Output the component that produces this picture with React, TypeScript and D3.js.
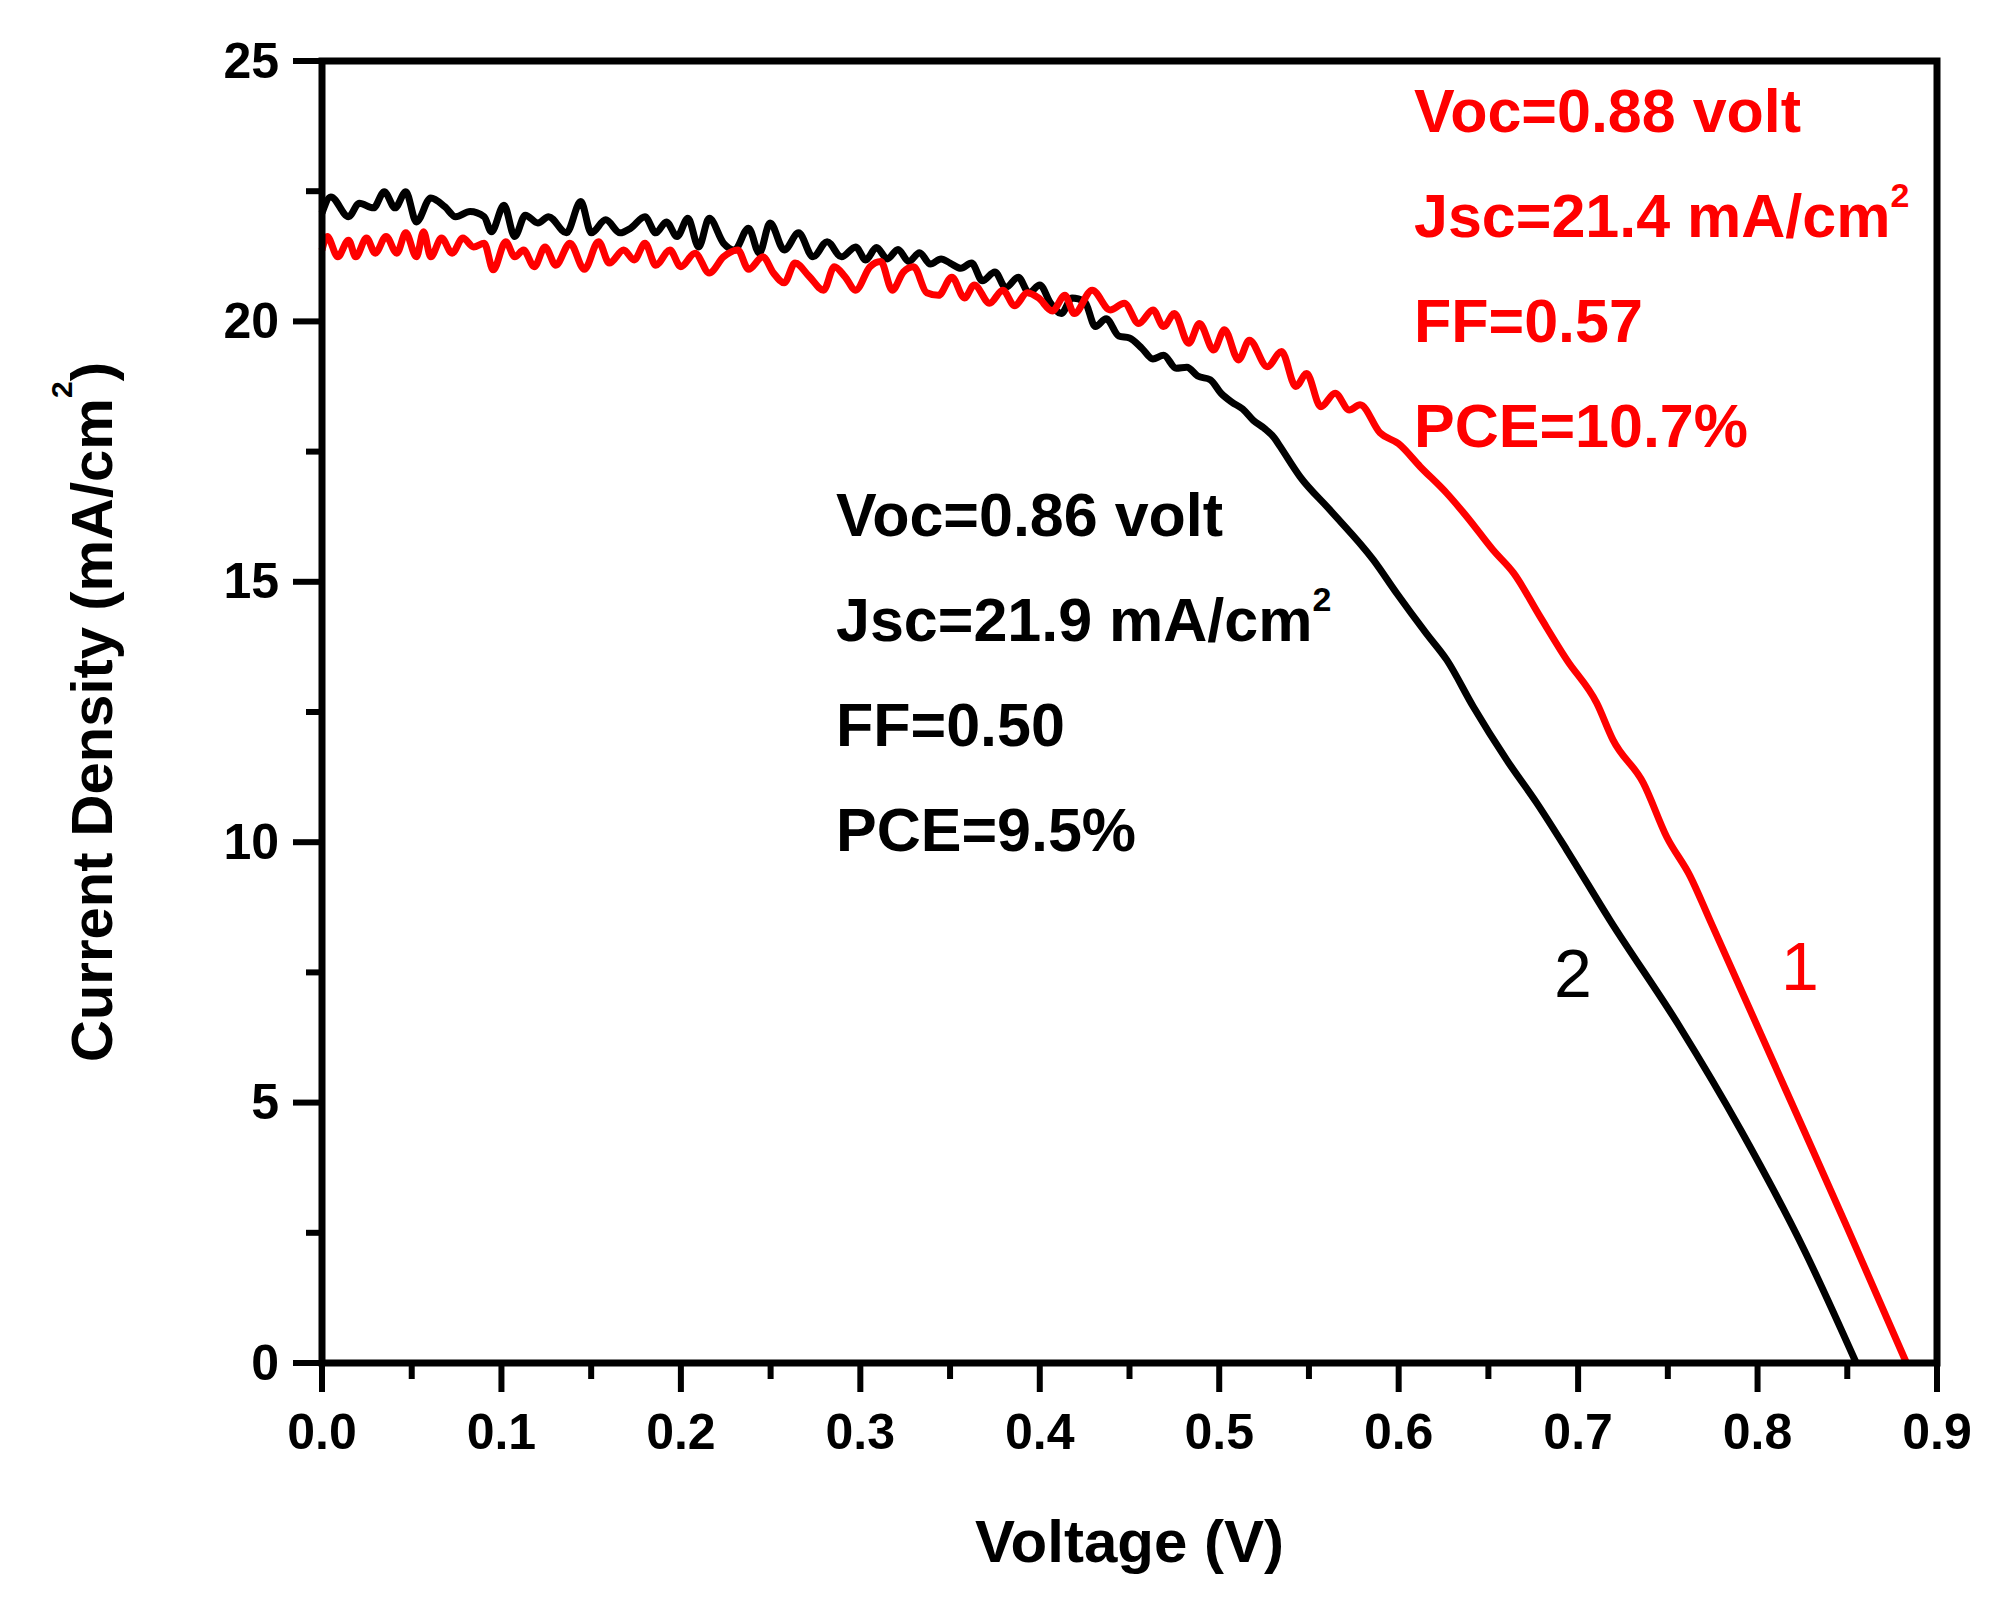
import { useMemo } from 'react'
import { scaleLinear, line, curveMonotoneX, range } from 'd3'

// curve 2 (black): voltage (V) and current density (mA/cm2)
const BLACK_V = [
  0, 0.0049, 0.0148, 0.0208, 0.0287, 0.0347, 0.0407, 0.0467, 0.0526, 0.0606, 0.0685, 0.0745,
  0.0825, 0.0904, 0.0944, 0.1014, 0.1074, 0.1133, 0.1203, 0.1263, 0.1362, 0.1442, 0.1501,
  0.1581, 0.1661, 0.172, 0.18, 0.186, 0.1919, 0.1979, 0.2039, 0.2099, 0.2158, 0.2238, 0.2298,
  0.2377, 0.2437, 0.2497, 0.2576, 0.2656, 0.2736, 0.2815, 0.2895, 0.2974, 0.303, 0.309, 0.315,
  0.321, 0.327, 0.333, 0.339, 0.345, 0.35, 0.356, 0.362, 0.368, 0.375, 0.381, 0.388, 0.394,
  0.4, 0.406, 0.412, 0.418, 0.425, 0.431, 0.437, 0.444, 0.45, 0.457, 0.463, 0.469, 0.476,
  0.482, 0.488, 0.495, 0.501, 0.507, 0.513, 0.519, 0.525, 0.531, 0.5339, 0.545, 0.5617,
  0.5859, 0.5989, 0.6156, 0.6268, 0.6416, 0.6602, 0.677, 0.6937, 0.7178, 0.756, 0.791, 0.826,
  0.855,
]
const BLACK_J = [
  22.08, 22.39, 22.01, 22.27, 22.18, 22.49, 22.18, 22.49, 21.91, 22.37, 22.2, 22.01, 22.11,
  22.01, 21.72, 22.23, 21.63, 22.04, 21.89, 22.01, 21.7, 22.3, 21.7, 21.95, 21.7, 21.79, 22.01,
  21.7, 21.91, 21.63, 21.98, 21.43, 21.98, 21.5, 21.37, 21.79, 21.31, 21.89, 21.37, 21.7,
  21.24, 21.53, 21.24, 21.43, 21.18, 21.42, 21.2, 21.38, 21.15, 21.32, 21.1, 21.2, 21.12,
  21.02, 21.12, 20.78, 20.95, 20.65, 20.85, 20.55, 20.7, 20.35, 20.15, 20.45, 20.38, 19.9,
  20.05, 19.72, 19.68, 19.48, 19.28, 19.35, 19.1, 19.12, 18.95, 18.88, 18.62, 18.45, 18.32,
  18.1, 17.95, 17.75, 17.6, 17.02, 16.38, 15.42, 14.78, 14.0, 13.5, 12.6, 11.58, 10.75, 9.85,
  8.5, 6.49, 4.45, 2.17, 0,
]

// curve 1 (red)
const RED_V = [
  0, 0.0029, 0.0088, 0.0148, 0.0188, 0.0248, 0.0297, 0.0357, 0.0417, 0.0467, 0.0526, 0.0566,
  0.0606, 0.0666, 0.0725, 0.0785, 0.0845, 0.0904, 0.0954, 0.1024, 0.1074, 0.1123, 0.1183,
  0.1243, 0.1303, 0.1382, 0.1462, 0.1541, 0.1601, 0.1681, 0.174, 0.18, 0.186, 0.1939, 0.1999,
  0.2079, 0.2158, 0.2238, 0.2317, 0.2377, 0.2457, 0.2516, 0.2576, 0.2636, 0.2716, 0.2795,
  0.2855, 0.2914, 0.2974, 0.3054, 0.3114, 0.3178, 0.324, 0.3297, 0.337, 0.3436, 0.351, 0.358,
  0.3635, 0.372, 0.3794, 0.386, 0.393, 0.3993, 0.407, 0.414, 0.4192, 0.4292, 0.4392, 0.4471,
  0.4551, 0.4631, 0.469, 0.475, 0.483, 0.489, 0.4969, 0.5029, 0.5108, 0.5168, 0.5268, 0.5347,
  0.5427, 0.5487, 0.5566, 0.5646, 0.5725, 0.5785, 0.5896, 0.6, 0.612, 0.6268, 0.638, 0.6526,
  0.664, 0.6788, 0.6937, 0.7104, 0.7195, 0.7363, 0.7494, 0.7624, 0.7735, 0.815, 0.85, 0.883,
]
const RED_J = [
  21.37, 21.63, 21.24, 21.56, 21.24, 21.6, 21.31, 21.63, 21.31, 21.7, 21.24, 21.72, 21.24,
  21.6, 21.31, 21.6, 21.43, 21.5, 20.99, 21.53, 21.24, 21.37, 21.05, 21.43, 21.08, 21.5, 21.0,
  21.53, 21.12, 21.37, 21.18, 21.5, 21.08, 21.37, 21.05, 21.31, 20.93, 21.24, 21.37, 21.0,
  21.24, 20.93, 20.74, 21.12, 20.86, 20.6, 21.05, 20.86, 20.6, 21.05, 21.15, 20.6, 20.95,
  21.05, 20.55, 20.5, 20.85, 20.45, 20.7, 20.35, 20.6, 20.3, 20.55, 20.45, 20.2, 20.5, 20.15,
  20.6, 20.22, 20.35, 19.96, 20.22, 19.9, 20.15, 19.58, 19.96, 19.45, 19.84, 19.26, 19.64,
  19.13, 19.42, 18.75, 19.0, 18.36, 18.62, 18.3, 18.4, 17.86, 17.65, 17.21, 16.7, 16.25,
  15.61, 15.17, 14.33, 13.5, 12.67, 11.96, 11.14, 10.1, 9.35, 8.5, 5.3, 2.6, 0,
]

const X_TICKS = [0, 0.1, 0.2, 0.3, 0.4, 0.5, 0.6, 0.7, 0.8, 0.9]
const Y_TICKS = [0, 5, 10, 15, 20, 25]

const RED_NOTES = ['Voc=0.88 volt', 'Jsc=21.4 mA/cm', 'FF=0.57', 'PCE=10.7%']
const BLACK_NOTES = ['Voc=0.86 volt', 'Jsc=21.9 mA/cm', 'FF=0.50', 'PCE=9.5%']

const W = 2016
const H = 1610
const M = { top: 61, right: 79, bottom: 247, left: 322 }
const FONT = '"Liberation Sans", Arial, Helvetica, sans-serif'
const RED = '#ff0000'

function Notes({ lines, x, y0, color }: { lines: string[]; x: number; y0: number; color: string }) {
  return (
    <g fill={color} fontFamily={FONT} fontWeight="bold" fontSize={61}>
      {lines.map((t, i) => (
        <text key={t} x={x} y={y0 + i * 105}>
          {t}
          {t.startsWith('Jsc') && (
            <tspan fontSize={34} dy={-30}>
              2
            </tspan>
          )}
        </text>
      ))}
    </g>
  )
}

export default function App() {
  const x = scaleLinear().domain([0, 0.9]).range([M.left, W - M.right])
  const y = scaleLinear().domain([0, 25]).range([H - M.bottom, M.top])

  const { blackPath, redPath } = useMemo(() => {
    const gen = line<[number, number]>()
      .x((d) => x(d[0]))
      .y((d) => y(d[1]))
      .curve(curveMonotoneX)
    return {
      blackPath: gen(BLACK_V.map((v, i) => [v, BLACK_J[i]])) ?? '',
      redPath: gen(RED_V.map((v, i) => [v, RED_J[i]])) ?? '',
    }
  }, [])

  const x0 = M.left
  const x1 = W - M.right
  const y0 = H - M.bottom
  const y1 = M.top
  const xMinor = range(0.05, 0.9, 0.1)
  const yMinor = range(2.5, 25, 5)

  return (
    <svg
      width={W}
      height={H}
      viewBox={`0 0 ${W} ${H}`}
      style={{ position: 'absolute', left: 0, top: 0, background: '#fff' }}
    >
      <rect width={W} height={H} fill="#fff" />

      <path d={blackPath} fill="none" stroke="#000" strokeWidth={7} strokeLinejoin="round" />
      <path d={redPath} fill="none" stroke={RED} strokeWidth={7} strokeLinejoin="round" />

      {/* frame */}
      <rect
        x={x0}
        y={y1}
        width={x1 - x0}
        height={y0 - y1}
        fill="none"
        stroke="#000"
        strokeWidth={7}
      />

      {/* ticks, outward on the left and bottom */}
      <g stroke="#000" strokeWidth={6}>
        {X_TICKS.map((t) => (
          <line key={`xm${t}`} x1={x(t)} x2={x(t)} y1={y0} y2={y0 + 29} />
        ))}
        {xMinor.map((t) => (
          <line key={`xn${t}`} x1={x(t)} x2={x(t)} y1={y0} y2={y0 + 16} />
        ))}
        {Y_TICKS.map((t) => (
          <line key={`ym${t}`} x1={x0} x2={x0 - 29} y1={y(t)} y2={y(t)} />
        ))}
        {yMinor.map((t) => (
          <line key={`yn${t}`} x1={x0} x2={x0 - 16} y1={y(t)} y2={y(t)} />
        ))}
      </g>

      <g fontFamily={FONT} fontWeight="bold" fontSize={50} fill="#000">
        {X_TICKS.map((t) => (
          <text key={`xl${t}`} x={x(t)} y={1449} textAnchor="middle">
            {t.toFixed(1)}
          </text>
        ))}
        {Y_TICKS.map((t) => (
          <text key={`yl${t}`} x={279} y={y(t)} dy="0.33em" textAnchor="end">
            {t}
          </text>
        ))}
      </g>

      {/* axis titles */}
      <text
        x={(x0 + x1) / 2}
        y={1562}
        textAnchor="middle"
        fontFamily={FONT}
        fontWeight="bold"
        fontSize={60}
      >
        Voltage (V)
      </text>
      <text
        transform={`translate(112,${(y0 + y1) / 2}) rotate(-90)`}
        textAnchor="middle"
        fontFamily={FONT}
        fontWeight="bold"
        fontSize={58}
      >
        Current Density (mA/cm
        <tspan fontSize={30} dy={-40}>
          2
        </tspan>
        <tspan dy={40}>)</tspan>
      </text>

      <Notes lines={RED_NOTES} x={1414} y0={132} color={RED} />
      <Notes lines={BLACK_NOTES} x={836} y0={536} color="#000" />

      {/* curve numbers */}
      <text x={1573} y={997} textAnchor="middle" fontFamily={FONT} fontSize={68} fill="#000">
        2
      </text>
      <text x={1800} y={990} textAnchor="middle" fontFamily={FONT} fontSize={68} fill={RED}>
        1
      </text>
    </svg>
  )
}
